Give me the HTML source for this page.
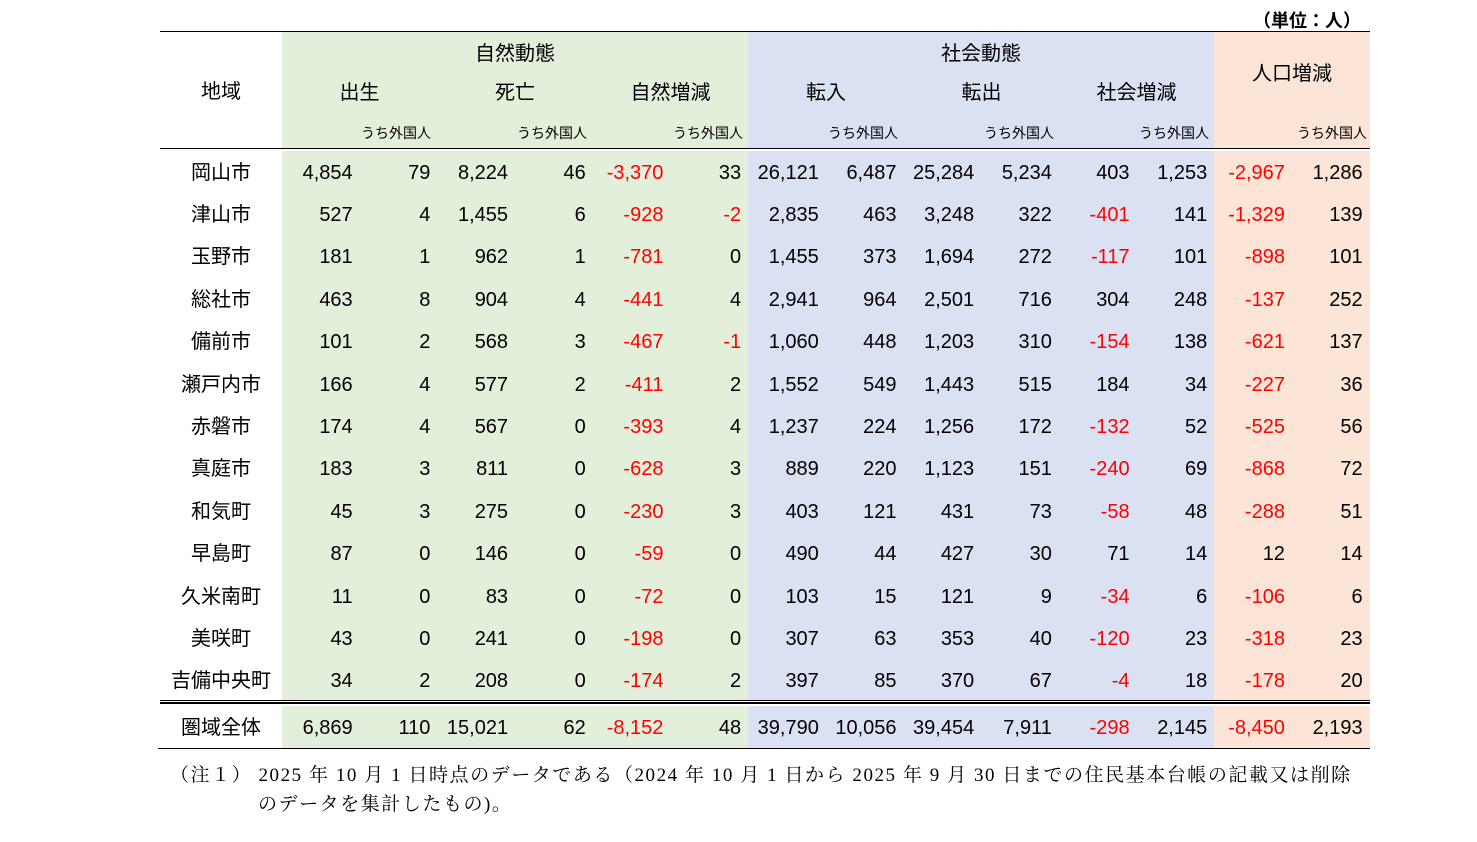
<!DOCTYPE html>
<html><head><meta charset="utf-8"><style>
body{margin:0;width:1477px;height:842px;background:#fff;font-family:"Liberation Sans","Noto Sans CJK JP",sans-serif;color:#000;position:relative;overflow:hidden}
.a{position:absolute}
.bgG{background:#e2efda}.bgB{background:#d9e1f2}.bgO{background:#fce4d6}
.h{position:absolute;font-size:20px;text-align:center;line-height:24px}
.s{position:absolute;font-size:14px;line-height:18px;text-align:right}
.r{position:absolute;left:160px;width:1210px;height:43px;display:flex;font-size:20px;line-height:44px}
.r div{width:77.7px;text-align:right;padding-right:7px;box-sizing:border-box}
.r div.n{width:122px;text-align:center;padding:0;background:#fff}
.r div.g{background:#e2efda}.r div.b{background:#d9e1f2}.r div.o{background:#fce4d6}
.red{color:#f00}
.fn{position:absolute;font-family:"Liberation Serif","Noto Serif CJK SC",serif;font-size:19px;line-height:24px;letter-spacing:1.55px}
</style></head><body>
<div class="a" style="right:116px;top:7px;font-size:18px;font-weight:bold">（単位：人）</div>
<div class="a bgG" style="left:282px;top:31px;width:466px;height:117px"></div>
<div class="a bgB" style="left:748px;top:31px;width:466px;height:117px"></div>
<div class="a bgO" style="left:1214px;top:31px;width:156px;height:117px"></div>
<div class="a" style="left:160px;top:31px;width:1210px;height:1px;background:#000"></div>
<div class="a" style="left:160px;top:148px;width:1210px;height:1px;background:#000"></div>
<div class="h" style="left:160px;top:80px;width:122px">地域</div>
<div class="h" style="left:282px;top:42px;width:466px">自然動態</div>
<div class="h" style="left:748px;top:42px;width:466px">社会動態</div>
<div class="h" style="left:1214px;top:62px;width:156px">人口増減</div>
<div class="h" style="left:282px;top:81px;width:155px">出生</div>
<div class="h" style="left:437px;top:81px;width:156px">死亡</div>
<div class="h" style="left:593px;top:81px;width:155px">自然増減</div>
<div class="h" style="left:748px;top:81px;width:156px">転入</div>
<div class="h" style="left:904px;top:81px;width:155px">転出</div>
<div class="h" style="left:1059px;top:81px;width:155px">社会増減</div>
<div class="s" style="left:330px;top:124px;width:101px">うち外国人</div>
<div class="s" style="left:486px;top:124px;width:101px">うち外国人</div>
<div class="s" style="left:642px;top:124px;width:101px">うち外国人</div>
<div class="s" style="left:797px;top:124px;width:101px">うち外国人</div>
<div class="s" style="left:953px;top:124px;width:101px">うち外国人</div>
<div class="s" style="left:1108px;top:124px;width:101px">うち外国人</div>
<div class="s" style="left:1266px;top:124px;width:101px">うち外国人</div>

<div class="r" style="top:151px"><div class="n">岡山市</div><div class="g">4,854</div><div class="g">79</div><div class="g">8,224</div><div class="g">46</div><div class="g red">-3,370</div><div class="g">33</div><div class="b">26,121</div><div class="b">6,487</div><div class="b">25,284</div><div class="b">5,234</div><div class="b">403</div><div class="b">1,253</div><div class="o red">-2,967</div><div class="o">1,286</div></div>
<div class="r" style="top:193px"><div class="n">津山市</div><div class="g">527</div><div class="g">4</div><div class="g">1,455</div><div class="g">6</div><div class="g red">-928</div><div class="g red">-2</div><div class="b">2,835</div><div class="b">463</div><div class="b">3,248</div><div class="b">322</div><div class="b red">-401</div><div class="b">141</div><div class="o red">-1,329</div><div class="o">139</div></div>
<div class="r" style="top:235px"><div class="n">玉野市</div><div class="g">181</div><div class="g">1</div><div class="g">962</div><div class="g">1</div><div class="g red">-781</div><div class="g">0</div><div class="b">1,455</div><div class="b">373</div><div class="b">1,694</div><div class="b">272</div><div class="b red">-117</div><div class="b">101</div><div class="o red">-898</div><div class="o">101</div></div>
<div class="r" style="top:278px"><div class="n">総社市</div><div class="g">463</div><div class="g">8</div><div class="g">904</div><div class="g">4</div><div class="g red">-441</div><div class="g">4</div><div class="b">2,941</div><div class="b">964</div><div class="b">2,501</div><div class="b">716</div><div class="b">304</div><div class="b">248</div><div class="o red">-137</div><div class="o">252</div></div>
<div class="r" style="top:320px"><div class="n">備前市</div><div class="g">101</div><div class="g">2</div><div class="g">568</div><div class="g">3</div><div class="g red">-467</div><div class="g red">-1</div><div class="b">1,060</div><div class="b">448</div><div class="b">1,203</div><div class="b">310</div><div class="b red">-154</div><div class="b">138</div><div class="o red">-621</div><div class="o">137</div></div>
<div class="r" style="top:363px"><div class="n">瀬戸内市</div><div class="g">166</div><div class="g">4</div><div class="g">577</div><div class="g">2</div><div class="g red">-411</div><div class="g">2</div><div class="b">1,552</div><div class="b">549</div><div class="b">1,443</div><div class="b">515</div><div class="b">184</div><div class="b">34</div><div class="o red">-227</div><div class="o">36</div></div>
<div class="r" style="top:405px"><div class="n">赤磐市</div><div class="g">174</div><div class="g">4</div><div class="g">567</div><div class="g">0</div><div class="g red">-393</div><div class="g">4</div><div class="b">1,237</div><div class="b">224</div><div class="b">1,256</div><div class="b">172</div><div class="b red">-132</div><div class="b">52</div><div class="o red">-525</div><div class="o">56</div></div>
<div class="r" style="top:447px"><div class="n">真庭市</div><div class="g">183</div><div class="g">3</div><div class="g">811</div><div class="g">0</div><div class="g red">-628</div><div class="g">3</div><div class="b">889</div><div class="b">220</div><div class="b">1,123</div><div class="b">151</div><div class="b red">-240</div><div class="b">69</div><div class="o red">-868</div><div class="o">72</div></div>
<div class="r" style="top:490px"><div class="n">和気町</div><div class="g">45</div><div class="g">3</div><div class="g">275</div><div class="g">0</div><div class="g red">-230</div><div class="g">3</div><div class="b">403</div><div class="b">121</div><div class="b">431</div><div class="b">73</div><div class="b red">-58</div><div class="b">48</div><div class="o red">-288</div><div class="o">51</div></div>
<div class="r" style="top:532px"><div class="n">早島町</div><div class="g">87</div><div class="g">0</div><div class="g">146</div><div class="g">0</div><div class="g red">-59</div><div class="g">0</div><div class="b">490</div><div class="b">44</div><div class="b">427</div><div class="b">30</div><div class="b">71</div><div class="b">14</div><div class="o">12</div><div class="o">14</div></div>
<div class="r" style="top:575px"><div class="n">久米南町</div><div class="g">11</div><div class="g">0</div><div class="g">83</div><div class="g">0</div><div class="g red">-72</div><div class="g">0</div><div class="b">103</div><div class="b">15</div><div class="b">121</div><div class="b">9</div><div class="b red">-34</div><div class="b">6</div><div class="o red">-106</div><div class="o">6</div></div>
<div class="r" style="top:617px"><div class="n">美咲町</div><div class="g">43</div><div class="g">0</div><div class="g">241</div><div class="g">0</div><div class="g red">-198</div><div class="g">0</div><div class="b">307</div><div class="b">63</div><div class="b">353</div><div class="b">40</div><div class="b red">-120</div><div class="b">23</div><div class="o red">-318</div><div class="o">23</div></div>
<div class="r" style="top:659px;height:41px"><div class="n">吉備中央町</div><div class="g">34</div><div class="g">2</div><div class="g">208</div><div class="g">0</div><div class="g red">-174</div><div class="g">2</div><div class="b">397</div><div class="b">85</div><div class="b">370</div><div class="b">67</div><div class="b red">-4</div><div class="b">18</div><div class="o red">-178</div><div class="o">20</div></div>
<div class="a" style="left:160px;top:700px;width:1210px;height:1px;background:#000"></div>
<div class="a" style="left:160px;top:702px;width:1210px;height:2px;background:#000"></div>
<div class="r" style="top:706px;height:42px"><div class="n">圏域全体</div><div class="g">6,869</div><div class="g">110</div><div class="g">15,021</div><div class="g">62</div><div class="g red">-8,152</div><div class="g">48</div><div class="b">39,790</div><div class="b">10,056</div><div class="b">39,454</div><div class="b">7,911</div><div class="b red">-298</div><div class="b">2,145</div><div class="o red">-8,450</div><div class="o">2,193</div></div>
<div class="a" style="left:158px;top:748px;width:1212px;height:1px;background:#000"></div>
<div class="fn" style="left:170px;top:764px;white-space:nowrap">（注１） 2025 年 10 月 1 日時点のデータである（2024 年 10 月 1 日から 2025 年 9 月 30 日までの住民基本台帳の記載又は削除</div>
<div class="fn" style="left:258px;top:793px;white-space:nowrap">のデータを集計したもの)。</div>
</body></html>
